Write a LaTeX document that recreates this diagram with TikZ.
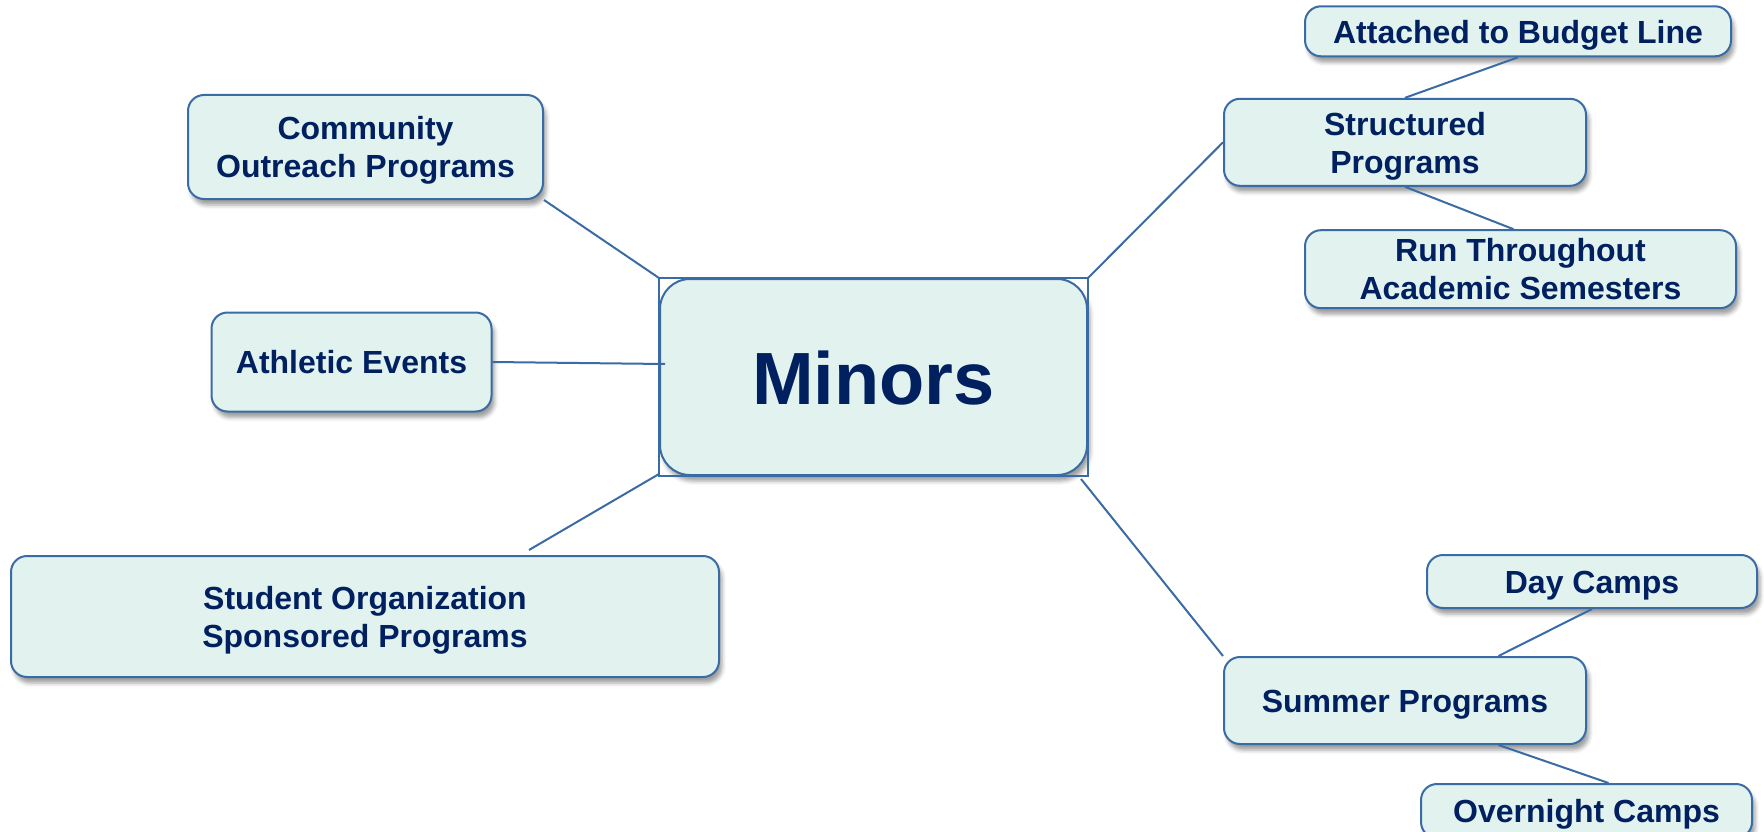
\documentclass[tikz,border=0pt]{standalone}
\usepackage{fontspec}
\setmainfont{Liberation Sans}
\usetikzlibrary{positioning}
\usetikzlibrary{shadows.blur}
\definecolor{boxfill}{HTML}{E2F3EF}
\definecolor{boxline}{HTML}{3A6BA5}
\definecolor{boxtext}{HTML}{002060}
% line strut with the font's own ascent and descent
\newcommand{\linestrut}{\rule[-0.212em]{0pt}{1.16em}}
\tikzset{topic/.style={
        draw=boxline,
        fill=boxfill,
        rounded corners=16pt,
        line width=2pt,
        inner sep=0pt,
        align=center,
        text=boxtext,
        font=\fontsize{32pt}{38pt}\selectfont\bfseries,
        execute at begin node=\linestrut,
        execute at end node=\linestrut,
        blur shadow={shadow xshift=3pt, shadow yshift=-6pt, shadow blur radius=4pt, shadow opacity=38} } }
\tikzset{hub/.style={
        topic,
        rounded corners=30pt,
        font=\fontsize{74pt}{80pt}\selectfont\bfseries } }
\tikzset{link/.style={
        draw=boxline,
        line width=2pt } }

\begin{document}
\begin{tikzpicture}[x=1pt,y=-1pt] % pixel-like units, y downwards
\useasboundingbox (0,0) rectangle (1764,832);

\node[hub, minimum width=427pt, minimum height=196pt] (minors) at (873.5,377) {Minors};
\draw[boxline, line width=1.2pt] (minors.south west) rectangle (minors.north east);

% left side
\node[topic, minimum width=355pt, minimum height=104pt] (comm) at (365.5,147) {\linestrut Community\\Outreach Programs};
\node[topic, minimum width=280pt, minimum height=99pt] (athl) at (351.5,362) {Athletic Events};
\node[topic, minimum width=708pt, minimum height=121pt] (stud) at (365,616.5) {\linestrut Student Organization\\Sponsored Programs};

% right side
\node[topic, minimum width=362pt, minimum height=87pt] (struct) at (1405,142.3) {\linestrut Structured\\Programs};
\node[topic, minimum width=426pt, minimum height=50pt] (attach)
[above=40.5pt of struct, xshift=113pt] {Attached to Budget Line};
\node[topic, minimum width=431pt, minimum height=78pt] (run)
[below=42.4pt of struct, xshift=115.5pt] {\linestrut Run Throughout\\Academic Semesters};

\node[topic, minimum width=362pt, minimum height=87pt] (summ) at (1405,700.5) {Summer Programs};
\node[topic, minimum width=330pt, minimum height=53pt] (day)
[above=47pt of summ, xshift=187pt] {Day Camps};
\node[topic, minimum width=331pt, minimum height=54pt] (over)
[below=38pt of summ, xshift=181.5pt] {Overnight Camps};

\path[link]
(comm.south east) edge (minors.north west)
(athl.east) edge ([xshift=6pt,yshift=13pt]minors.west)
([xshift=164pt,yshift=5pt]stud.north) edge ([yshift=2pt]minors.south west)

(struct.west) edge (minors.north east)
(summ.north west) edge ([xshift=-7pt,yshift=-3pt]minors.south east)

(attach.south) edge (struct.north)
(struct.south) edge ([xshift=-7pt]run.north)
(day.south) edge ([xshift=93.5pt]summ.north)
([xshift=93.5pt]summ.south) edge ([xshift=22pt]over.north)
;

\end{tikzpicture}
\end{document}
